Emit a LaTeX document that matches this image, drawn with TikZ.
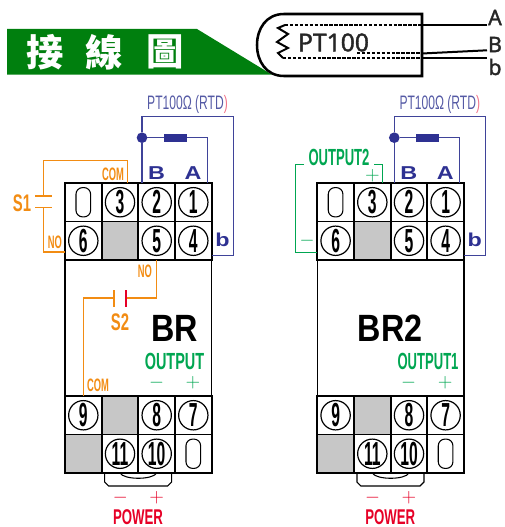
\documentclass[tikz,border=0pt]{standalone}
\usepackage{fontspec}
\usepackage{xcolor}
\setmainfont{Liberation Sans}
\newfontfamily\cjkfont{Noto Sans CJK TC}
\newfontfamily\probefont[FakeBold=1.5]{Noto Sans}
\newfontfamily\numfont[FakeStretch=0.47]{Liberation Sans}
\newfontfamily\narrowfont[FakeStretch=0.62]{Liberation Sans}
\newfontfamily\outfont[FakeStretch=0.56]{Liberation Sans}
\newfontfamily\slimfont[FakeStretch=0.52]{Liberation Sans}
\newfontfamily\brfont[FakeStretch=0.85]{Liberation Sans}
\newfontfamily\widefont[FakeStretch=1.25]{Liberation Sans}
\definecolor{rtdblue}{HTML}{2E3192}
\definecolor{rtdwire}{HTML}{3F4399}
\definecolor{rtdtext}{HTML}{555AA5}
\definecolor{bandgreen}{HTML}{007F0E}
\definecolor{outgreen}{HTML}{00A651}
\definecolor{sworange}{HTML}{F28C13}
\definecolor{pwrred}{HTML}{E60026}
\def\fs#1{\fontsize{#1}{#1}\selectfont}
\tikzstyle{lbl}=[inner sep=0,outer sep=0]
\tikzstyle{body}=[draw,line width=1,minimum width=110pt,minimum height=102pt,lbl]
\tikzstyle{cell}=[draw,line width=1.3,minimum width=27.5pt,minimum height=28.9pt,lbl]
\tikzstyle{blank}=[cell,fill=black!22]
\tikzstyle{slot}=[draw,line width=0.8,rounded corners=5pt,minimum width=11pt,minimum height=22pt,lbl]
\tikzstyle{num}=[circle,draw,line width=0.9,minimum size=22pt,lbl,font=\numfont\bfseries\fs{25}]
\tikzstyle{tabline}=[line width=0.8]
\tikzstyle{rtd}=[draw=rtdwire,line width=0.9]
\tikzstyle{swire}=[draw=sworange,line width=0.9]
\tikzstyle{owire}=[draw=outgreen,line width=0.9]
\tikzstyle{probe}=[line width=1.9,draw=black]
\tikzstyle{inner}=[line width=1.5,draw=black,dash pattern=on 2.6pt off 1.1pt]
\tikzstyle{lead}=[line width=1.5,draw=black]
\tikzstyle{probelbl}=[lbl,font=\probefont\fs{18.5},text=black!85]
\tikzstyle{pinlbl}=[lbl,font=\widefont\bfseries\fs{14},text=rtdblue]
\tikzstyle{swlbl}=[lbl,font=\slimfont\bfseries\fs{13.5},text=sworange]
\tikzstyle{swname}=[lbl,font=\narrowfont\bfseries\fs{18},text=sworange]
\tikzstyle{outlbl}=[lbl,font=\narrowfont\bfseries\fs{17.5},text=outgreen]
\tikzstyle{outnum}=[lbl,font=\outfont\bfseries\fs{17.5},text=outgreen]
\tikzstyle{outsign}=[lbl,font=\fs{15},text=outgreen]
\tikzstyle{pwrsign}=[lbl,font=\fs{15},text=pwrred]
\tikzstyle{pwrlbl}=[lbl,font=\narrowfont\bfseries\fs{16},text=pwrred]
\tikzstyle{model}=[lbl,font=\brfont\bfseries\fs{28.5}]
\def\relayblock#1#2{
  \begin{scope}[shift={(#2,0)}]
    \node[body] (#1body) at (138.3,328) {};
    \foreach \n/\x/\y in {1/193.3/202.25,2/156.7/202.25,3/120/202.25,4/193.3/240.75,5/156.7/240.75,6/83.3/240.75,
                          7/193.3/415.25,8/156.7/415.25,9/83.3/415.25,10/156.7/453.75,11/120/453.75}
      \node[cell] (#1c\n) at (\x,\y) {};
    \foreach \n/\x/\y in {a/83.3/202.25,b/193.3/453.75}
      {\node[cell] (#1e\n) at (\x,\y) {};
       \node[slot] (#1s\n) at (#1e\n) {};}
    \foreach \n/\x/\y in {a/120/240.75,b/120/415.25,c/83.3/453.75}
      \node[blank] (#1g\n) at (\x,\y) {};
    \foreach \n in {1,...,11}
      \node[num] (#1t\n) at (#1c\n) {\n};
    % power tab under 11 and 10
    \draw[tabline] (#1c11.south west) ++(3,0) -- ++(0,9) -- ++(4,4) -- ++(59,0) -- ++(4,-4) -- ++(0,-9);
    \draw[tabline] (#1c11.south) .. controls ++(4,7) and ++(-4,7) .. (#1c10.south);
    % sensor wiring
    \node[circle,fill=rtdblue,minimum size=8pt,lbl] (#1dot) at (142,137.7) {};
    \node[fill=rtdblue,minimum width=17pt,minimum height=6pt,lbl] (#1res) at (175.5,137.7) {};
    \coordinate (#1top) at (233.3,116.7);
    \coordinate (#1b) at (211.7,255.7);
    \coordinate (#1a) at (207.3,183);
    \draw[rtd] (#1dot |- #1c2.north) -- (#1dot) |- (#1top) |- (#1b);
    \draw[rtd] (#1dot) -- (#1res) -| (#1a);
    \node[lbl,font=\narrowfont\fs{14.6},text=rtdtext] (#1rtd) at (187.5,104) {PT100Ω (RTD{\color{pwrred!55})}};
    \node[pinlbl] (#1pinb) at (156.5,173) {B};
    \node[pinlbl] (#1pina) at (193,173) {A};
    \node[pinlbl] (#1pinc) at (222.5,240) {b};
    \node[pwrsign] (#1minus) at (120.3,498) {$-$};
    \node[pwrsign] (#1plus) at (156.7,498) {$+$};
    \node[pwrlbl] (#1power) at (138,517.5) {POWER};
  \end{scope}
}

\begin{document}
\begin{tikzpicture}[x=0.75pt,y=-0.75pt]
  \useasboundingbox (0,0) rectangle (504,527);
  % title band
  \fill[bandgreen] (7,29) -- (197,29) -- (272,74.7) -- (7,74.7) -- cycle;
  \node[lbl,font=\cjkfont\bfseries\fs{28},text=white] (title1) at (45,52) {接};
  \node[lbl,font=\cjkfont\bfseries\fs{28},text=white] (title2) at (104,52) {線};
  \node[lbl,font=\cjkfont\bfseries\fs{28},text=white] (title3) at (165,52) {圖};
  % probe
  \draw[probe] (422,14) -- (284,14) .. controls (266,14) and (257,29) .. (257,45)
    .. controls (257,61) and (266,76) .. (284,76) -- (422,76) -- cycle;
  \draw[lead] (285,25) -- (278,28) -- (288,34) -- (277,42) -- (288,48) -- (278,53) -- (283,58);
  \node[probelbl] (ptname) at (333.5,42.5) {PT100};
  \node[probelbl,font=\probefont\fs{16}] (leada) at (495,17.5) {A};
  \node[probelbl,font=\probefont\fs{16}] (leadb) at (495,44.5) {B};
  \node[probelbl,font=\probefont\fs{16}] (leadc) at (495,67) {b};
  \coordinate (inna) at (285,24.7);
  \coordinate (innb) at (357,53.5);
  \coordinate (innc) at (283,58.5);
  \coordinate (wall) at (422,45);
  \coordinate (enda) at (487,24.7);
  \coordinate (endb) at (487,50.3);
  \coordinate (endc) at (487,58.5);
  \draw[inner] (inna) -- (inna -| wall);
  \draw[inner] (innb) -- (innb -| wall);
  \draw[inner] (innc) -- (innc -| wall);
  \draw[lead] (inna -| wall) -- (enda);
  \draw[lead] (innb -| wall) -- (endb);
  \draw[lead] (innc -| wall) -- (endc);

  \relayblock{L}{0}
  \relayblock{R}{252.3}

  % left unit: S1, S2
  \coordinate (s1com) at (127.7,183);
  \coordinate (s1turn) at (43.3,160.7);
  \coordinate (s1up) at (43.3,196);
  \coordinate (s1dn) at (43.3,207.7);
  \coordinate (s1no) at (65,252);
  \coordinate (s2l) at (114,298);
  \coordinate (s2r) at (126,298);
  \draw[swire] (s1com) |- (s1turn) -- (s1up);
  \draw[swire] (s1up) ++(-8.3,0) -- ++(17,0);
  \draw[swire] (s1dn) ++(-8.3,0) -- ++(17,0);
  \draw[swire] (s1dn) |- (s1no);
  \draw[swire] (Lc5.south) |- (s2r);
  \draw[swire] (s2l) -| (Lc9.north);
  \draw[swire] (s2l) ++(0,-8) -- ++(0,17);
  \draw[draw=pwrred,line width=0.9] (s2r) ++(0,-8) -- ++(0,17);
  \node[swname] (s1name) at (22,203) {S1};
  \node[swname] (s2name) at (120,322) {S2};
  \node[swlbl] (comup) at (113,174.5) {COM};
  \node[swlbl] (noleft) at (55,242) {NO};
  \node[swlbl] (nomid) at (145,271) {NO};
  \node[swlbl] (comdn) at (98,385.5) {COM};
  \node[model] (brname) at (175,328.5) {BR};
  \node[outlbl] (outl) at (174.5,361.5) {OUTPUT};
  \node[outsign] (outlm) at (156.7,383) {$-$};
  \node[outsign] (outlp) at (193,383) {$+$};

  % right unit: outputs
  \coordinate (outpos) at (382.7,183);
  \coordinate (outa) at (374,164.7);
  \coordinate (outb) at (304,164.7);
  \coordinate (outc) at (295.7,252.3);
  \coordinate (outneg) at (317.3,252.3);
  \draw[owire] (outpos) |- (outa);
  \draw[owire] (outb) -| (outc) -- (outneg);
  \node[outnum] (outr) at (428,361.5) {OUTPUT1};
  \node[outnum] (outtwo) at (339,157) {OUTPUT2};
  \node[outsign] (outrm) at (408.7,383) {$-$};
  \node[outsign] (outrp) at (445.3,383) {$+$};
  \node[outsign] (twop) at (372.5,175.5) {$+$};
  \node[outsign] (twom) at (307,240.7) {$-$};
  \node[model] (brtwo) at (390,328.5) {BR2};
\end{tikzpicture}
\end{document}
